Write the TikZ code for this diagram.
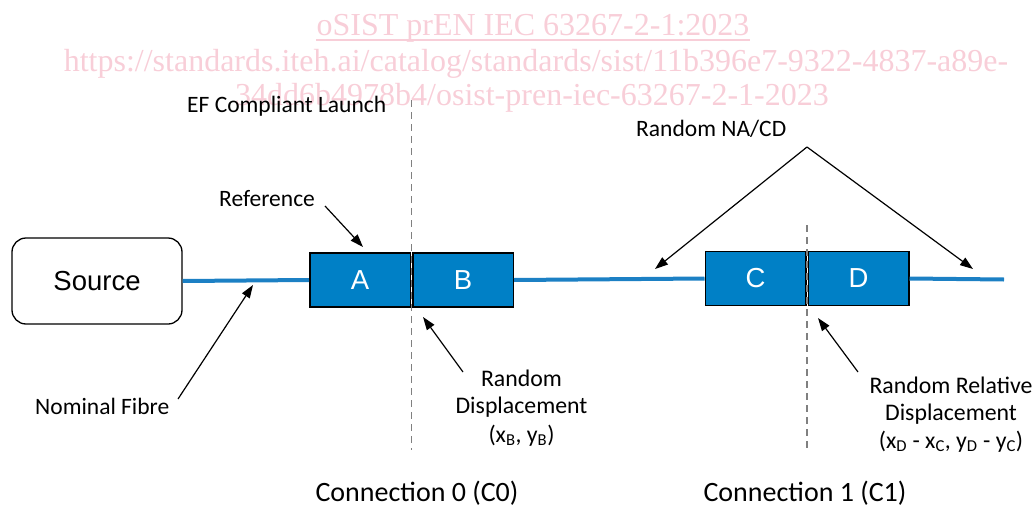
\documentclass[tikz,border=0pt]{standalone}
\usepackage{fontspec}
\setmainfont{Carlito}
\newfontfamily\arialf{Liberation Sans}
\newfontfamily\timesf{Liberation Serif}
\usetikzlibrary{arrows.meta,calc}
\definecolor{fibre}{RGB}{28,128,196}
\definecolor{boxblue}{RGB}{0,128,198}
\definecolor{wm}{RGB}{248,206,216}
\definecolor{dashgray}{RGB}{128,128,128}
\begin{document}
\begin{tikzpicture}[x=1pt,y=-1pt,
 lbl/.style={font=\fontsize{23.5}{28}\selectfont, inner sep=0pt, anchor=base west},
 lblc/.style={font=\fontsize{23.8}{28}\selectfont, inner sep=0pt, anchor=base},
 cname/.style={font=\fontsize{28}{32}\selectfont, inner sep=0pt, anchor=base},
 conn/.style={draw=black, line width=1.5pt, fill=boxblue, text=white, font=\arialf\fontsize{27.5}{30}\selectfont, minimum width=100.5pt, minimum height=54pt, inner sep=0pt},
 srcbox/.style={draw=black, line width=1.3pt, rounded corners=14pt, minimum width=170pt, minimum height=86pt, font=\arialf\fontsize{27.5}{30}\selectfont},
 fibreline/.style={draw=fibre, line width=4pt},
 ptr/.style={draw=black, line width=1.2pt, -{Triangle[length=13pt,width=9pt]}},
 cut/.style={draw=dashgray, line width=1.2pt, dash pattern=on 7pt off 5pt},
 wmark/.style={text=wm, font=\timesf\fontsize{32}{32}\selectfont, inner sep=0pt, anchor=base}
]
\useasboundingbox (0,0) rectangle (1036,506);

% watermark
\node[wmark] (wm1) at (533,35) {oSIST prEN IEC 63267-2-1:2023};
\coordinate (ul1) at ($(wm1.base west)+(0,5)$);
\coordinate (ul2) at ($(wm1.base east)+(0,5)$);
\draw[wm, line width=1.5pt] (ul1) -- (ul2);
\node[wmark] (wm2) at (536,71) {https://standards.iteh.ai/catalog/standards/sist/11b396e7-9322-4837-a89e-};
\node[wmark] (wm3) at (532,105) {34dd6b4978b4/osist-pren-iec-63267-2-1-2023};

% source and connectors
\node[srcbox] (src) at (97,281) {Source};
\node[conn] (A) at (360,280) {A};
\node[conn] (B) at (463,280) {B};
\node[conn] (C) at (755.5,278.5) {C};
\node[conn] (D) at (858.5,278.5) {D};
\coordinate (fend) at (1004,279.5);
\draw[fibreline] (src.east) -- (A.west);
\draw[fibreline] (B.east) -- (C.west);
\draw[fibreline] (D.east) -- (fend);

% connection planes
\coordinate (c0t) at (411.5,100);
\coordinate (c0b) at (411.5,450);
\coordinate (c1t) at (807,225);
\coordinate (c1b) at (807,450);
\draw[cut] (c0t) -- (c0b);
\draw[cut] (c1t) -- (c1b);

% labels
\node[lbl] (ef) at (187,112) {EF Compliant Launch};
\node[lbl] (ref) at (219,206) {Reference};
\node[lbl] (na) at (636,136) {Random NA/CD};
\node[lbl] (nom) at (35,414) {Nominal Fibre};
\node[lblc] (rd1) at (521.5,386) {Random};
\node[lblc] (rd2) at (521.5,413) {Displacement};
\node[lblc] (rd3) at (521.5,442) {(x\textsubscript{B}, y\textsubscript{B})};
\node[lblc] (rr1) at (951,393) {Random Relative};
\node[lblc] (rr2) at (951,420) {Displacement};
\node[lblc] (rr3) at (951,448) {(x\textsubscript{D} - x\textsubscript{C}, y\textsubscript{D} - y\textsubscript{C})};
\node[cname] (cn0) at (417,501) {Connection 0 (C0)};
\node[cname] (cn1) at (805,501) {Connection 1 (C1)};

% pointers
\coordinate (refs) at (325,206);
\coordinate (reft) at (363,247);
\draw[ptr] (refs) -- (reft);
\coordinate (noms) at (178,399);
\coordinate (nomt) at (253,285);
\draw[ptr] (noms) -- (nomt);
\coordinate (rds) at (463,372);
\coordinate (rdt) at (423,317);
\draw[ptr] (rds) -- (rdt);
\coordinate (rrs) at (858,372);
\coordinate (rrt) at (818,318);
\draw[ptr] (rrs) -- (rrt);
\coordinate (nas) at (807,147);
\coordinate (nal) at (655,269);
\coordinate (nar) at (973,269);
\draw[ptr] (nas) -- (nal);
\draw[ptr] (nas) -- (nar);
\end{tikzpicture}
\end{document}
